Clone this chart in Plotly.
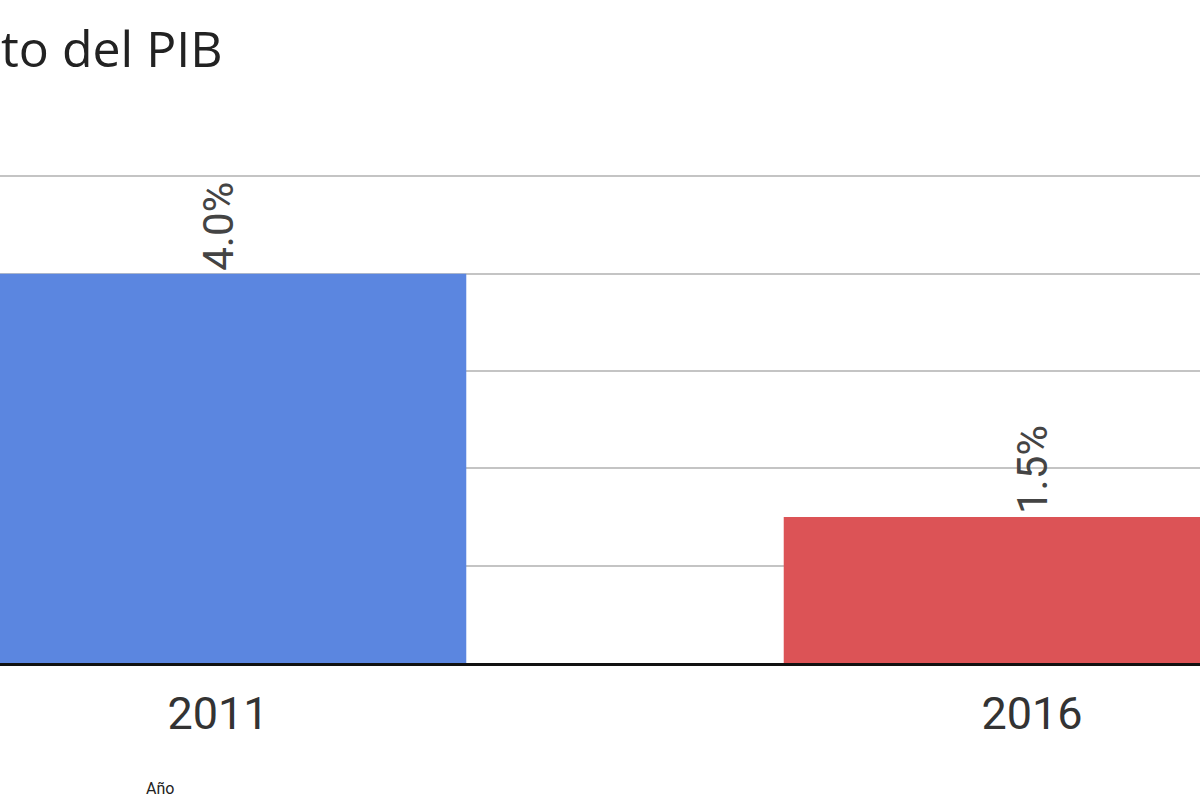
import plotly.graph_objects as go

years = ["2011", "2016"]
values = [4.0, 1.5]
labels = ["4.0%", "1.5%"]
colors = ["#5b86e0", "#dc5356"]
title_text = "to del PIB"
xaxis_title = "Año"

fig = go.Figure()
fig.add_trace(go.Bar(
    x=years, y=values, text=labels,
    marker=dict(color=colors, line=dict(width=0)),
    width=0.61,
    textposition="outside", textangle=-90,
    textfont=dict(family="Roboto", size=42, color="#444444"),
    cliponaxis=False,
))

H = 800
plot_top = 156.5
plot_bottom = 663
ph = plot_bottom - plot_top
scale = 814.0
c0 = 218.0

fig.update_layout(
    width=1200, height=H,
    margin=dict(l=0, r=0, t=plot_top, b=H - plot_bottom, pad=0),
    paper_bgcolor="white", plot_bgcolor="white",
    showlegend=False,
    title=dict(text=title_text, x=1/1200, xanchor="left", xref="paper",
               y=1 - 49/800, yanchor="middle",
               font=dict(family="Open Sans", size=50, color="#222222")),
    xaxis=dict(range=[-c0/scale, (1200-c0)/scale], showgrid=False,
               showline=True, linecolor="#111111", linewidth=3,
               ticks="", ticklabelstandoff=9,
               tickfont=dict(family="Roboto", size=45, color="#333333")),
    yaxis=dict(range=[0, 5.2], dtick=1, showticklabels=False,
               showgrid=True, gridcolor="#c4c4c4", gridwidth=2,
               zeroline=False, showline=False),
)
fig.add_annotation(text=xaxis_title, xref="paper", yref="paper",
                   x=160/1200, y=(plot_bottom - 789)/ph, showarrow=False,
                   xanchor="center", yanchor="middle",
                   font=dict(family="Roboto", size=16, color="#222222"))

fig.write_html("out.html", config={"displayModeBar": False},
               post_script="document.body.style.margin='0';")
